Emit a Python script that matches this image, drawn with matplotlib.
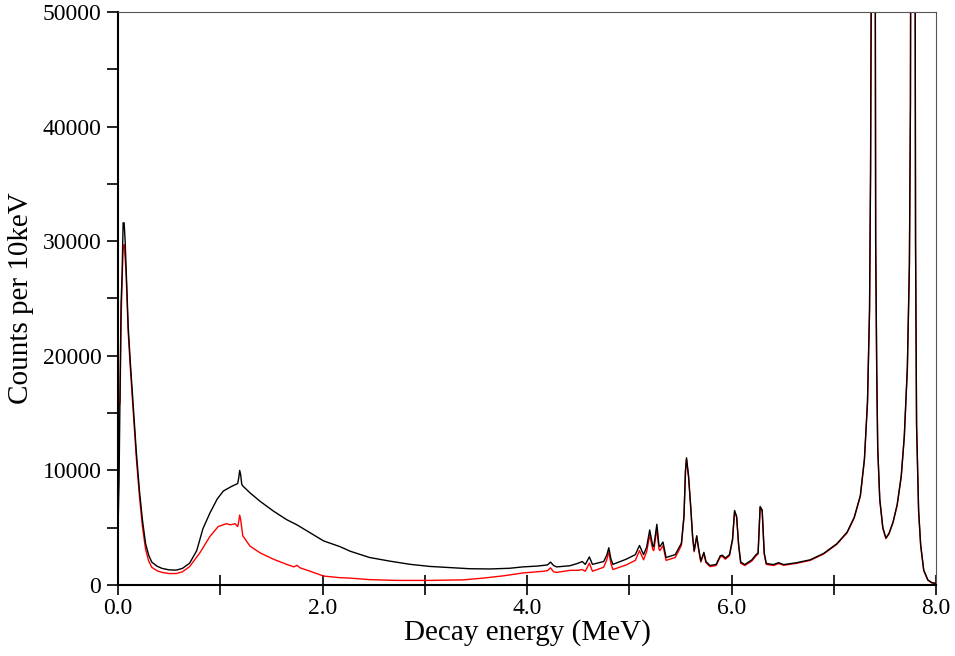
#! /usr/bin/env python3

import matplotlib
matplotlib.use('Agg')
import matplotlib.pyplot as plt
from matplotlib.ticker import MultipleLocator

# spectrum (energy in MeV, counts per 10 keV)
e_black = [0.00, 0.01, 0.02, 0.03, 0.04, 0.05, 0.06, 0.07, 0.08, 0.09, 0.10, 0.12, 0.15, 0.18,
           0.21, 0.24, 0.27, 0.30, 0.33, 0.38, 0.43, 0.50, 0.57, 0.63, 0.70, 0.77, 0.83, 0.90,
           0.97, 1.03, 1.11, 1.17, 1.18, 1.19, 1.20, 1.21, 1.22, 1.29, 1.39, 1.52, 1.65, 1.75,
           1.88, 2.01, 2.17, 2.27, 2.46, 2.66, 2.86, 3.05, 3.25, 3.44, 3.64, 3.83, 3.96, 4.10,
           4.20, 4.23, 4.26, 4.29, 4.42, 4.50, 4.54, 4.57, 4.61, 4.64, 4.75, 4.78, 4.80, 4.82,
           4.84, 4.97, 5.06, 5.10, 5.14, 5.17, 5.20, 5.23, 5.24, 5.27, 5.29, 5.30, 5.33, 5.36,
           5.45, 5.51, 5.535, 5.55, 5.56, 5.58, 5.60, 5.62, 5.635, 5.66, 5.68, 5.70, 5.73, 5.75,
           5.79, 5.85, 5.89, 5.91, 5.94, 5.98, 6.01, 6.03, 6.05, 6.07, 6.09, 6.13, 6.20, 6.24,
           6.26, 6.28, 6.30, 6.32, 6.34, 6.41, 6.46, 6.51, 6.64, 6.77, 6.90, 7.03, 7.13, 7.20,
           7.26, 7.30, 7.33, 7.35, 7.36, 7.37, 7.38, 7.40, 7.41, 7.42, 7.43, 7.45, 7.48, 7.51,
           7.54, 7.58, 7.62, 7.66, 7.69, 7.72, 7.74, 7.75, 7.76, 7.79, 7.80, 7.81, 7.83, 7.85,
           7.88, 7.92, 7.96, 8.00]
c_black = [4800, 9000, 17000, 24600, 27000, 31600, 31600, 30000, 27500, 25000, 22500, 19500, 15500, 11500,
           8200, 5600, 3600, 2600, 2000, 1650, 1450, 1320, 1300, 1450, 1900, 3000, 4900, 6300,
           7500, 8200, 8600, 8850, 9300, 10000, 9600, 8800, 8650, 8050, 7300, 6450, 5700, 5250,
           4550, 3850, 3350, 2950, 2400, 2080, 1800, 1620, 1520, 1420, 1400, 1460, 1580, 1650,
           1750, 2000, 1700, 1580, 1680, 1900, 2050, 1800, 2450, 1800, 2050, 2600, 3250, 2300,
           1800, 2250, 2650, 3450, 2650, 3300, 4800, 3400, 3350, 5300, 3500, 3350, 3750, 2400,
           2650, 3650, 6000, 10000, 11100, 9500, 7000, 4200, 3000, 4300, 3100, 2100, 2850, 2050,
           1700, 1800, 2550, 2600, 2350, 2650, 4000, 6500, 6000, 3500, 2000, 1780, 2200, 2650,
           2800, 6850, 6550, 2800, 1880, 1780, 1950, 1780, 1950, 2200, 2750, 3600, 4600, 5900,
           7800, 11000, 16000, 24000, 36000, 60000, 90000, 90000, 30000, 19000, 12000, 7500, 5000, 4100,
           4500, 5500, 7000, 9500, 13000, 19000, 28000, 42000, 90000, 90000, 30000, 14000, 6500, 3500,
           1300, 450, 200, 150]

e_red = [0.00, 0.01, 0.02, 0.03, 0.04, 0.05, 0.06, 0.07, 0.08, 0.09, 0.10, 0.12, 0.15, 0.18,
         0.21, 0.24, 0.27, 0.30, 0.33, 0.38, 0.43, 0.50, 0.57, 0.63, 0.70, 0.80, 0.90, 0.98,
         1.06, 1.10, 1.145, 1.17, 1.18, 1.19, 1.20, 1.22, 1.29, 1.39, 1.52, 1.65, 1.72, 1.75,
         1.78, 1.88, 2.01, 2.17, 2.27, 2.46, 2.72, 3.05, 3.38, 3.57, 3.77, 3.96, 4.16, 4.20,
         4.23, 4.26, 4.29, 4.42, 4.50, 4.54, 4.57, 4.61, 4.64, 4.75, 4.78, 4.80, 4.82, 4.84,
         4.97, 5.06, 5.10, 5.14, 5.17, 5.20, 5.23, 5.24, 5.27, 5.29, 5.30, 5.33, 5.36, 5.45,
         5.51, 5.535, 5.55, 5.56, 5.58, 5.60, 5.62, 5.635, 5.66, 5.68, 5.70, 5.73, 5.75, 5.79,
         5.85, 5.89, 5.91, 5.94, 5.98, 6.01, 6.03, 6.05, 6.07, 6.09, 6.13, 6.20, 6.24, 6.26,
         6.28, 6.30, 6.32, 6.34, 6.41, 6.46, 6.51, 6.64, 6.77, 6.90, 7.03, 7.13, 7.20, 7.26,
         7.30, 7.33, 7.35, 7.36, 7.37, 7.38, 7.40, 7.41, 7.42, 7.43, 7.45, 7.48, 7.51, 7.54,
         7.58, 7.62, 7.66, 7.69, 7.72, 7.74, 7.75, 7.76, 7.79, 7.80, 7.81, 7.83, 7.85, 7.88,
         7.92, 7.96, 8.00]
c_red = [4500, 15500, 16000, 23000, 26500, 29500, 29700, 28500, 27000, 24500, 22000, 19000, 15000, 11000,
         7700, 5000, 3100, 2100, 1550, 1250, 1100, 1000, 1000, 1150, 1600, 2800, 4250, 5100,
         5350, 5250, 5350, 5100, 5500, 6100, 5700, 4300, 3400, 2800, 2250, 1800, 1580, 1720,
         1500, 1200, 780, 640, 600, 470, 400, 400, 450, 600, 800, 1050, 1200, 1250,
         1500, 1150, 1100, 1280, 1280, 1350, 1200, 1900, 1200, 1550, 2200, 2900, 1900, 1350,
         1750, 2150, 3000, 2200, 2900, 4350, 3100, 3000, 4900, 3150, 3000, 3450, 2150, 2400,
         3450, 5900, 9900, 11000, 9400, 6900, 4100, 2900, 4200, 3000, 2000, 2750, 1950, 1600,
         1700, 2450, 2500, 2250, 2550, 3900, 6400, 5900, 3400, 1900, 1700, 2100, 2550, 2700,
         6750, 6450, 2700, 1800, 1700, 1870, 1720, 1900, 2150, 2700, 3550, 4550, 5850, 7750,
         10900, 15900, 23900, 35900, 59900, 89900, 89900, 29900, 18900, 11900, 7400, 4950, 4050, 4450,
         5450, 6950, 9450, 12900, 18900, 27900, 41900, 89900, 89900, 29900, 13900, 6400, 3450, 1250,
         420, 180, 130]

plt.rcParams['font.family'] = ['Liberation Serif', 'DejaVu Serif']

fig = plt.figure(figsize=(9.55, 6.56), dpi=100)
ax = fig.add_axes([118 / 955, 1 - 585 / 656, 818 / 955, 573 / 656])

ax.plot(e_red, c_red, color='red', lw=1.0)
ax.plot(e_black, c_black, color='black', lw=1.0)

ax.set_xlim(0, 8)
ax.set_ylim(0, 50000)
ax.set_xticks([0, 2, 4, 6, 8])
ax.set_xticklabels(['0.0', '2.0', '4.0', '6.0', '8.0'])
ax.xaxis.set_minor_locator(MultipleLocator(1))
ax.yaxis.set_major_locator(MultipleLocator(10000))
ax.yaxis.set_minor_locator(MultipleLocator(5000))

ax.tick_params(axis='x', which='both', direction='inout', length=15, width=1.2,
               labelsize=17, pad=2)
ax.tick_params(axis='y', which='both', direction='out', length=8, width=1.2,
               labelsize=17, pad=4)

for side in ['left', 'bottom']:
    ax.spines[side].set_linewidth(1.5)
for side in ['top', 'right']:
    ax.spines[side].set_linewidth(0.8)
    ax.spines[side].set_color('#555555')

ax.set_xlabel('Decay energy (MeV)', fontsize=21, labelpad=0)
ax.set_ylabel('Counts per 10keV', fontsize=21, labelpad=6)

plt.savefig('out.png', dpi=100)
